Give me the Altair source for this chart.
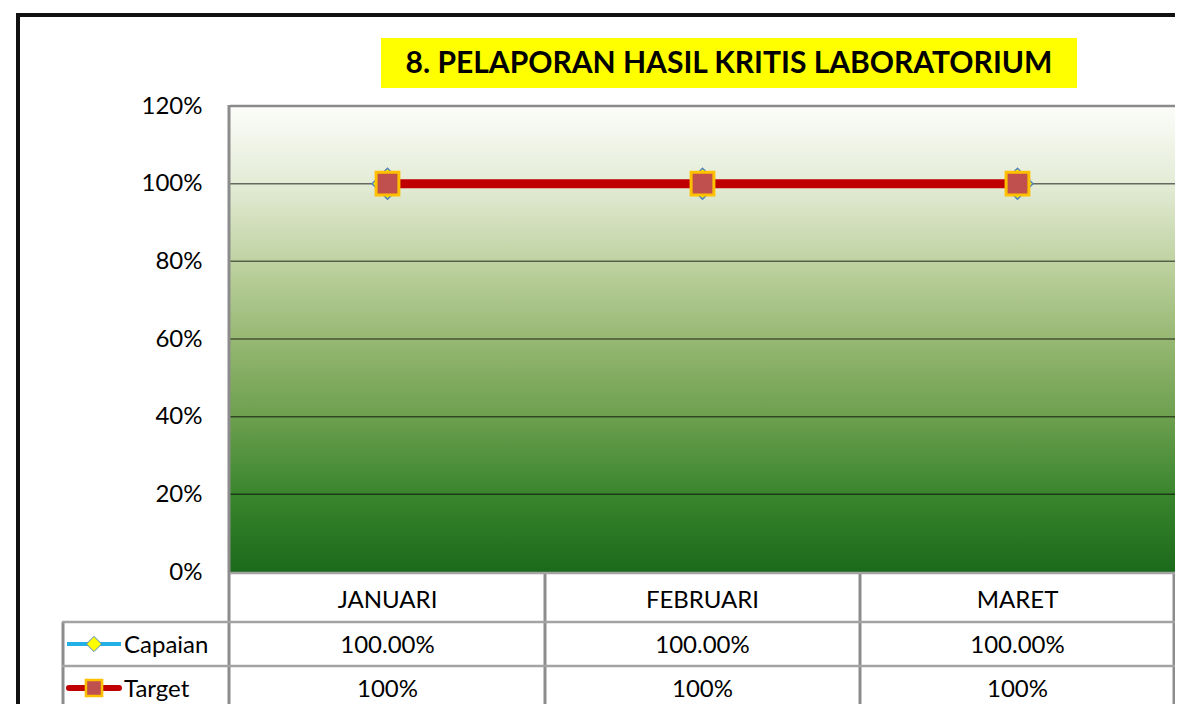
import altair as alt
import pandas as pd

# ---- data ----
months = ["JANUARI", "FEBRUARI", "MARET"]
capaian = [1.0, 1.0, 1.0]
target = [1.0, 1.0, 1.0]
series_names = ["Capaian", "Target"]
y_ticks = [0.0, 0.2, 0.4, 0.6, 0.8, 1.0, 1.2]
grid_values = [0.2, 0.4, 0.6, 0.8, 1.0]
title_text = "8. PELAPORAN HASIL KRITIS LABORATORIUM"

W, H = 945, 466
FONT = "Lato"

df_cap = pd.DataFrame({"month": months, "value": capaian, "series": series_names[0]})
df_tar = pd.DataFrame({"month": months, "value": target, "series": series_names[1]})
df_grid = pd.DataFrame({"value": grid_values})
df_border = pd.DataFrame({"value": [y_ticks[-1]]})
one = pd.DataFrame({"k": [0]})

xenc = alt.X("month:N", sort=months, scale=alt.Scale(type="point", padding=0.5), axis=None)
yaxis = alt.Axis(values=y_ticks, format=".0%", grid=False, ticks=False, domain=False,
                 labelFontSize=24, labelFont=FONT, labelColor="black", labelPadding=28,
                 title=None)
yenc = alt.Y("value:Q", scale=alt.Scale(domain=[0, 1.2]), axis=yaxis)

gradient = {
    "gradient": "linear", "x1": 0, "x2": 0, "y1": 0, "y2": 1,
    "stops": [
        {"offset": 0.0, "color": "#fcfdfa"},
        {"offset": 0.17, "color": "#e3ebd5"},
        {"offset": 0.33, "color": "#c0d3a3"},
        {"offset": 0.5, "color": "#97b873"},
        {"offset": 0.67, "color": "#6c9f4e"},
        {"offset": 0.83, "color": "#3a862e"},
        {"offset": 1.0, "color": "#1b6a1b"},
    ],
}

def hrule(y, x0, x1, color, width, data=one):
    return alt.Chart(data).mark_rule(color=color, strokeWidth=width).encode(
        x=alt.value(x0), x2=alt.value(x1), y=alt.value(y))

def vrule(x, y0, y1, color, width, data=one):
    return alt.Chart(data).mark_rule(color=color, strokeWidth=width).encode(
        x=alt.value(x), y=alt.value(y0), y2=alt.value(y1))

# outer black frame
frame_top = hrule(-91, -214, 960, "#111111", 4)
frame_left = vrule(-212, -93, 620, "#111111", 4)

# plot background
bg = alt.Chart(one).mark_rect(fill=gradient).encode(
    x=alt.value(0), x2=alt.value(W), y=alt.value(0), y2=alt.value(H))

grid = alt.Chart(df_grid).mark_rule(color="black", opacity=0.55, strokeWidth=1.5).encode(
    y=yenc, x=alt.value(0), x2=alt.value(W))
top_border = alt.Chart(df_border).mark_rule(color="#8a8a8a", strokeWidth=2.5).encode(
    y=yenc, x=alt.value(0), x2=alt.value(W))

GRAY_V = "#8c8c8c"
GRAY_H = "#a3a3a3"
step = W / 3
table_lines = [
    vrule(-1, -1, 605, GRAY_V, 3),
    vrule(step, H, 605, GRAY_V, 3),
    vrule(2 * step, H, 605, GRAY_V, 3),
    vrule(W - 1, H, 605, GRAY_V, 3),
    vrule(-167, 516, 605, GRAY_V, 3),
    hrule(H + 1, 0, W, GRAY_H, 2.5),
    hrule(516, -168, W, GRAY_H, 2.5),
    hrule(560, -168, W, GRAY_H, 2.5),
    hrule(604, -168, W, GRAY_H, 2.5),
]

# series
cap_line = alt.Chart(df_cap).mark_line(color="#22b0e6", strokeWidth=3).encode(x=xenc, y=yenc)
cap_pts = alt.Chart(df_cap).mark_point(shape="diamond", filled=True, fill="#ffff00", stroke="#4f81bd",
                                      strokeWidth=1.5, size=950, opacity=1).encode(x=xenc, y=yenc)
tar_line = alt.Chart(df_tar).mark_line(color="#c00000", strokeWidth=9).encode(x=xenc, y=yenc)
tar_pts = alt.Chart(df_tar).mark_point(shape="square", filled=True, fill="#c0504d", stroke="#ffc000",
                                      strokeWidth=3, size=520, opacity=1).encode(x=xenc, y=yenc)

# data table texts
txt_kw = dict(font=FONT, fontSize=24, color="black", align="center", baseline="middle")
hdr = alt.Chart(df_cap).mark_text(**txt_kw).encode(x=xenc, y=alt.value(495), text="month:N")
cap_txt = alt.Chart(df_cap).mark_text(**txt_kw).encode(
    x=xenc, y=alt.value(540), text=alt.Text("value:Q", format=".2%"))
tar_txt = alt.Chart(df_tar).mark_text(**txt_kw).encode(
    x=xenc, y=alt.value(584), text=alt.Text("value:Q", format=".0%"))

# legend keys inside the table
df_cap_name = pd.DataFrame({"series": [series_names[0]]})
df_tar_name = pd.DataFrame({"series": [series_names[1]]})
key_cap_line = hrule(538, -163, -109, "#22b0e6", 4)
key_cap_pt = alt.Chart(one).mark_point(shape="diamond", filled=True, fill="#ffff00", stroke="#4f81bd",
                                       strokeWidth=1, size=230, opacity=1).encode(
    x=alt.value(-136), y=alt.value(538))
key_tar_line = alt.Chart(one).mark_rule(color="#c00000", strokeWidth=6, strokeCap="round").encode(
    x=alt.value(-161), x2=alt.value(-111), y=alt.value(582))
key_tar_pt = alt.Chart(one).mark_point(shape="square", filled=True, fill="#c0504d", stroke="#ffc000",
                                       strokeWidth=2.5, size=260, opacity=1).encode(
    x=alt.value(-136), y=alt.value(582))
lbl_kw = dict(font=FONT, fontSize=24, color="black", align="left", baseline="middle")
key_cap_txt = alt.Chart(df_cap_name).mark_text(**lbl_kw).encode(
    x=alt.value(-106), y=alt.value(540), text="series:N")
key_tar_txt = alt.Chart(df_tar_name).mark_text(**lbl_kw).encode(
    x=alt.value(-106), y=alt.value(584), text="series:N")

# title box
df_title = pd.DataFrame({"t": [title_text]})
title_box = alt.Chart(one).mark_rect(fill="#ffff00").encode(
    x=alt.value(151), x2=alt.value(847), y=alt.value(-68), y2=alt.value(-18))
title_txt = alt.Chart(df_title).mark_text(font=FONT, fontSize=30, fontWeight="bold", color="black",
                                         align="center", baseline="middle").encode(
    x=alt.value(499), y=alt.value(-42), text="t:N")

chart = alt.layer(
    frame_top, frame_left, bg, grid, top_border, *table_lines,
    cap_line, cap_pts, tar_line, tar_pts,
    hdr, cap_txt, tar_txt,
    key_cap_line, key_cap_pt, key_tar_line, key_tar_pt, key_cap_txt, key_tar_txt,
    title_box, title_txt,
).properties(
    width=W, height=H,
    autosize=alt.AutoSizeParams(type="none"),
    padding={"left": 222, "top": 98, "right": 0, "bottom": 132},
    background="white",
).configure_view(stroke=None)

chart.save("out.html", embed_options={"renderer": "svg", "actions": False})
